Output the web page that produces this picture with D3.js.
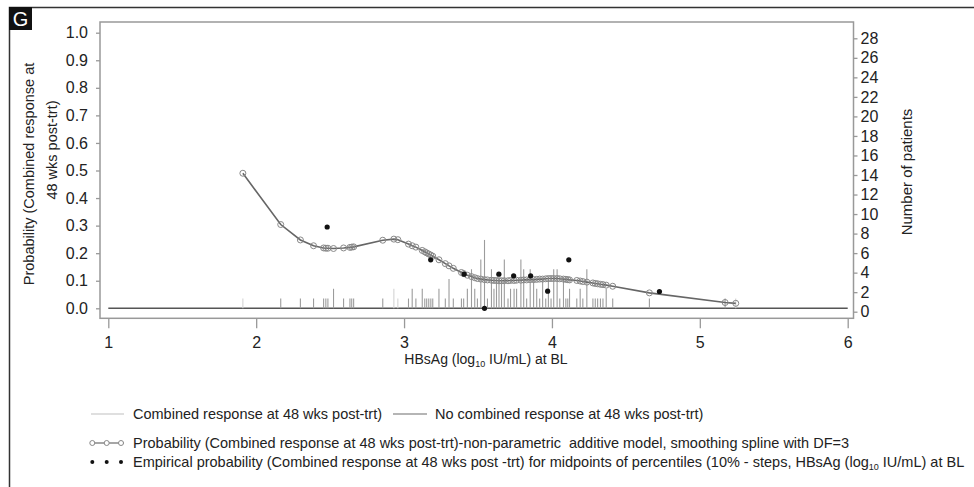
<!DOCTYPE html>
<html lang="en">
<head>
<meta charset="utf-8">
<title>HBsAg at BL - probability of combined response</title>
<script src="https://d3js.org/d3.v7.min.js"></script>
<style>
  body { margin: 0; background: #fff; }
  svg text { font-family: "Liberation Sans", Arial, sans-serif; fill: #222; }
</style>
</head>
<body>
<script>

// HBsAg (log10 IU/mL) at BL, one entry per distinct patient value
var hbsag = [1.910, 2.166, 2.299, 2.388, 2.456, 2.471, 2.485, 2.523, 2.591, 2.634, 2.646, 2.659,
  2.856, 2.931, 2.958, 3.030, 3.055, 3.080, 3.123, 3.140, 3.153, 3.167, 3.181, 3.194,
  3.236, 3.279, 3.304, 3.333, 3.388, 3.403, 3.428, 3.456, 3.478, 3.496, 3.519, 3.544,
  3.564, 3.591, 3.608, 3.625, 3.642, 3.659, 3.678, 3.703, 3.720, 3.744, 3.761, 3.790,
  3.809, 3.829, 3.853, 3.876, 3.897, 3.917, 3.937, 3.958, 3.976, 3.994, 4.012, 4.035,
  4.053, 4.078, 4.094, 4.107, 4.119, 4.168, 4.191, 4.209, 4.236, 4.277, 4.293, 4.309,
  4.328, 4.345, 4.367, 4.411, 4.659, 5.171, 5.243];

// smoothing spline (DF=3) probability at each value above
var curveProb = [0.490, 0.304, 0.248, 0.227, 0.219, 0.218, 0.218, 0.217, 0.219, 0.221, 0.222, 0.223,
  0.247, 0.251, 0.249, 0.233, 0.227, 0.222, 0.210, 0.205, 0.201, 0.197, 0.193, 0.189,
  0.176, 0.162, 0.154, 0.145, 0.130, 0.126, 0.120, 0.115, 0.111, 0.108, 0.106, 0.104,
  0.103, 0.102, 0.101, 0.101, 0.100, 0.100, 0.100, 0.100, 0.101, 0.101, 0.102, 0.102,
  0.103, 0.103, 0.104, 0.104, 0.105, 0.106, 0.106, 0.107, 0.108, 0.108, 0.108, 0.108,
  0.107, 0.106, 0.105, 0.104, 0.103, 0.101, 0.099, 0.097, 0.095, 0.092, 0.090, 0.089,
  0.087, 0.086, 0.084, 0.080, 0.056, 0.021, 0.018];

// number of patients without combined response at each value
var nNoResp = [0, 1, 1, 1, 1, 1, 1, 2, 1, 1, 1, 1,
  1, 0, 0, 1, 2, 1, 2, 1, 1, 1, 1, 1,
  2, 1, 3, 1, 1, 1, 2, 4, 2, 1, 5, 7,
  1, 4, 2, 3, 3, 3, 5, 1, 2, 2, 2, 5,
  4, 1, 4, 3, 2, 1, 3, 1, 3, 1, 4, 4,
  1, 3, 1, 1, 2, 1, 2, 1, 4, 1, 1, 1,
  1, 1, 2, 1, 1, 1, 0];

// number of patients with combined response at each value
var nResp = [1, 0, 0, 0, 0, 0, 0, 0, 0, 0, 0, 0,
  0, 2, 1, 0, 0, 0, 0, 0, 0, 0, 0, 0,
  0, 0, 0, 0, 0, 0, 0, 0, 0, 0, 0, 0,
  0, 0, 0, 0, 0, 0, 0, 0, 0, 0, 0, 0,
  0, 0, 0, 0, 0, 0, 0, 0, 0, 0, 0, 0,
  0, 0, 0, 0, 0, 0, 0, 0, 0, 0, 0, 0,
  0, 0, 0, 0, 0, 0, 1];

// empirical probability at decile midpoints
var empX = [2.48, 3.18, 3.406, 3.544, 3.641, 3.741, 3.856, 3.971, 4.114, 4.727];
var empProb = [0.295, 0.176, 0.124, 0.0, 0.124, 0.118, 0.118, 0.062, 0.176, 0.061];

var xTicks = [1, 2, 3, 4, 5, 6];
var yTicks = [0, 0.1, 0.2, 0.3, 0.4, 0.5, 0.6, 0.7, 0.8, 0.9, 1.0];
var y2Ticks = [0, 2, 4, 6, 8, 10, 12, 14, 16, 18, 20, 22, 24, 26, 28];

var width = 974, height = 487;

var svg = d3.select("body").append("svg")
  .attr("width", width)
  .attr("height", height);

// panel border + letter
svg.append("path")
  .attr("d", "M9.5,487V7.5H974")
  .attr("fill", "none")
  .attr("stroke", "#333")
  .attr("stroke-width", 1.5);
svg.append("rect")
  .attr("x", 9).attr("y", 7).attr("width", 23).attr("height", 23)
  .attr("fill", "#111");
svg.append("text")
  .attr("x", 20.5).attr("y", 25.5)
  .attr("text-anchor", "middle")
  .style("fill", "#fff")
  .style("font-size", "20px")
  .text("G");

// scales
var x = d3.scaleLinear().domain([1, 6]).range([108.3, 847.7]);
var y = d3.scaleLinear().domain([0, 1]).range([308.3, 32.7]);
var y2 = d3.scaleLinear().domain([0, 28]).range([311.7, 38.3]);

var frame = {left: 100, right: 853.5, top: 22, bottom: 318.3};

svg.append("rect")
  .attr("x", frame.left).attr("y", frame.top)
  .attr("width", frame.right - frame.left)
  .attr("height", frame.bottom - frame.top)
  .attr("fill", "none")
  .attr("stroke", "#999")
  .attr("stroke-width", 1.5);

// axes
function styleAxis(g) {
  g.select(".domain").remove();
  g.selectAll(".tick line").attr("stroke", "#999").attr("stroke-width", 1.3);
  g.selectAll(".tick text").style("font-size", "16px").style("fill", "#222");
}

svg.append("g")
  .attr("transform", "translate(" + frame.left + ",0)")
  .call(d3.axisLeft(y).tickValues(yTicks).tickFormat(d3.format(".1f"))
    .tickSize(4).tickPadding(8))
  .call(styleAxis);

svg.append("g")
  .attr("transform", "translate(" + frame.right + ",0)")
  .call(d3.axisRight(y2).tickValues(y2Ticks).tickSize(4).tickPadding(3))
  .call(styleAxis);

svg.append("g")
  .attr("transform", "translate(0," + frame.bottom + ")")
  .call(d3.axisBottom(x).tickValues(xTicks).tickFormat(d3.format("d"))
    .tickSize(10).tickPadding(8))
  .call(styleAxis);

// axis titles
var yTitle = svg.append("g").style("font-size", "14.5px");
yTitle.append("text")
  .attr("transform", "translate(33.5,174) rotate(-90)")
  .attr("text-anchor", "middle")
  .text("Probability (Combined response at");
yTitle.append("text")
  .attr("transform", "translate(57,150) rotate(-90)")
  .attr("text-anchor", "middle")
  .text("48 wks post-trt)");

svg.append("text")
  .attr("transform", "translate(912,172) rotate(-90)")
  .attr("text-anchor", "middle")
  .style("font-size", "15px")
  .text("Number of patients");

var xt = svg.append("text")
  .attr("x", 486).attr("y", 364)
  .attr("text-anchor", "middle")
  .style("font-size", "14px");
xt.append("tspan").text("HBsAg (log");
xt.append("tspan").attr("dy", 3).style("font-size", "9px").text("10");
xt.append("tspan").attr("dy", -3).text(" IU/mL) at BL");

// needle baseline
svg.append("line")
  .attr("x1", x(1)).attr("x2", x(6))
  .attr("y1", y(0)).attr("y2", y(0))
  .attr("stroke", "#555")
  .attr("stroke-width", 1.5);

// patient count spikes, measured on the right-hand axis
function spikeTop(n) { return y(0) - (y2(0) - y2(n)); }

var idx = d3.range(hbsag.length);

svg.append("g").selectAll("line")
  .data(idx.filter(function(i) { return nNoResp[i] > 0; }))
  .join("line")
  .attr("x1", function(i) { return x(hbsag[i]); })
  .attr("x2", function(i) { return x(hbsag[i]); })
  .attr("y1", y(0))
  .attr("y2", function(i) { return spikeTop(nNoResp[i]); })
  .attr("stroke", "#9c9c9c")
  .attr("stroke-width", 1.1);

svg.append("g").selectAll("line")
  .data(idx.filter(function(i) { return nResp[i] > 0; }))
  .join("line")
  .attr("x1", function(i) { return x(hbsag[i]); })
  .attr("x2", function(i) { return x(hbsag[i]); })
  .attr("y1", y(0))
  .attr("y2", function(i) { return spikeTop(nResp[i]); })
  .attr("stroke", "#d4d4d4")
  .attr("stroke-width", 1.1);

// smoothing spline curve
var line = d3.line()
  .x(function(i) { return x(hbsag[i]); })
  .y(function(i) { return y(curveProb[i]); });

svg.append("path")
  .datum(idx)
  .attr("d", line)
  .attr("fill", "none")
  .attr("stroke", "#666")
  .attr("stroke-width", 1.6);

svg.append("g").selectAll("circle")
  .data(idx)
  .join("circle")
  .attr("cx", function(i) { return x(hbsag[i]); })
  .attr("cy", function(i) { return y(curveProb[i]); })
  .attr("r", 3)
  .attr("fill", "none")
  .attr("stroke", "#888")
  .attr("stroke-width", 1);

// empirical probabilities
svg.append("g").selectAll("circle")
  .data(d3.range(empX.length))
  .join("circle")
  .attr("cx", function(i) { return x(empX[i]); })
  .attr("cy", function(i) { return y(empProb[i]); })
  .attr("r", 2.6)
  .attr("fill", "#111");

// legend
var leg = svg.append("g").style("font-size", "14.5px");

leg.append("line")
  .attr("x1", 91).attr("x2", 124).attr("y1", 414).attr("y2", 414)
  .attr("stroke", "#d4d4d4").attr("stroke-width", 1.3);
leg.append("text").attr("x", 133).attr("y", 419)
  .text("Combined response at 48 wks post-trt)");
leg.append("line")
  .attr("x1", 393).attr("x2", 427).attr("y1", 414).attr("y2", 414)
  .attr("stroke", "#9c9c9c").attr("stroke-width", 1.3);
leg.append("text").attr("x", 435).attr("y", 419)
  .text("No combined response at 48 wks post-trt)");

var legSym = [92.3, 106.7, 121];
leg.append("line")
  .attr("x1", 90).attr("x2", 124).attr("y1", 443).attr("y2", 443)
  .attr("stroke", "#888").attr("stroke-width", 1.3);
leg.append("g").selectAll("circle")
  .data(legSym).join("circle")
  .attr("cx", function(d) { return d; }).attr("cy", 443).attr("r", 2.5)
  .attr("fill", "#fff").attr("stroke", "#888");
leg.append("text").attr("x", 133).attr("y", 448)
  .text("Probability (Combined response at 48 wks post-trt)-non-parametric\u00a0 additive model, smoothing spline with DF=3");

leg.append("g").selectAll("circle")
  .data(legSym).join("circle")
  .attr("cx", function(d) { return d; }).attr("cy", 462).attr("r", 2)
  .attr("fill", "#111");
var et = leg.append("text").attr("x", 133).attr("y", 467);
et.append("tspan").text("Empirical probability (Combined response at 48 wks post -trt) for midpoints of percentiles (10% - steps, HBsAg (log");
et.append("tspan").attr("dy", 3).style("font-size", "9px").text("10");
et.append("tspan").attr("dy", -3).text(" IU/mL) at BL");
// squeeze the long line to the panel width, like the original
var w = et.node().getComputedTextLength();
if (w > 838) et.attr("textLength", 838).attr("lengthAdjust", "spacingAndGlyphs");

</script>
</body>
</html>
